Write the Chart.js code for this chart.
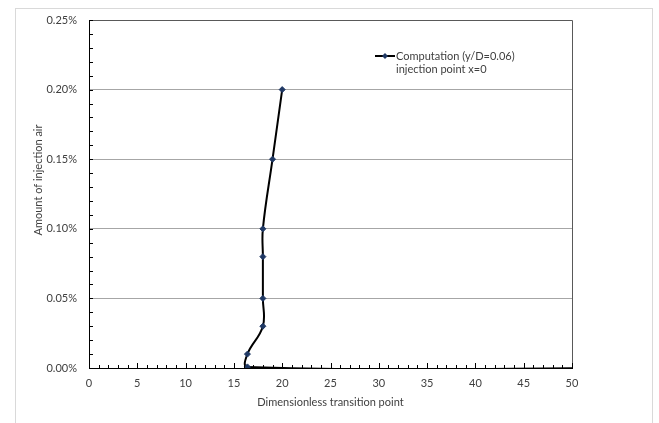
<!DOCTYPE html>
<html>
<head>
<meta charset="utf-8">
<script src="https://cdn.jsdelivr.net/npm/chart.js@4"></script>
<style>
  html, body { margin: 0; padding: 0; background: #fff; }
  #wrap { width: 659px; height: 423px; position: relative; }
</style>
</head>
<body>
<div id="wrap"><canvas id="chartCanvas" width="659" height="423"></canvas></div>
<script>
// values (x = dimensionless transition point, y = injection air in %)
const transitionX = [60, 16.4, 16.4, 18, 18, 18, 18, 19, 20]
const injectionY = [0, 0.0008, 0.01, 0.03, 0.05, 0.08, 0.10, 0.15, 0.20]
const seriesLabel = ['Computation (y/D=0.06)', 'injection point x=0']
const xTitle = 'Dimensionless transition point'
const yTitle = 'Amount of injection air'

const fontFamily = 'Lato, "Open Sans", sans-serif'
const textColor = '#404040'

let points = []
for (let i in transitionX) {
    points.push({ x: transitionX[i], y: injectionY[i] })
}

// frame, plot border, inside ticks, axis titles and legend
const decorPlugin = {
    id: 'decor',
    beforeDraw(chart) {
        const ctx = chart.ctx
        ctx.save()
        ctx.fillStyle = '#fff'
        ctx.fillRect(0, 0, chart.width, chart.height)
        ctx.strokeStyle = '#d9d9d9'
        ctx.lineWidth = 1
        ctx.strokeRect(15.5, 8.5, 637, 440)
        ctx.restore()
    },
    afterDraw(chart) {
        const ctx = chart.ctx
        const area = chart.chartArea
        const xs = chart.scales.x
        const ys = chart.scales.y
        ctx.save()

        // top and right border of the plot
        ctx.strokeStyle = '#595959'
        ctx.lineWidth = 1
        ctx.beginPath()
        ctx.moveTo(area.left, Math.round(area.top) + 0.5)
        ctx.lineTo(Math.round(area.right) + 0.5, Math.round(area.top) + 0.5)
        ctx.lineTo(Math.round(area.right) + 0.5, area.bottom)
        ctx.stroke()

        // inside ticks
        ctx.strokeStyle = '#000'
        ctx.beginPath()
        for (let v = 0; v <= 50; v += 1) {
            let px = Math.round(xs.getPixelForValue(v)) + 0.5
            let len = (v % 5 == 0) ? 5 : 3
            ctx.moveTo(px, area.bottom)
            ctx.lineTo(px, area.bottom - len)
        }
        for (let k = 0; k <= 25; k++) {
            let py = Math.round(ys.getPixelForValue(k / 100)) + 0.5
            ctx.moveTo(area.left, py)
            ctx.lineTo(area.left + 4, py)
        }
        ctx.stroke()

        // axis titles
        ctx.fillStyle = textColor
        ctx.font = '11px ' + fontFamily
        ctx.textAlign = 'center'
        ctx.textBaseline = 'middle'
        ctx.fillText(xTitle, (area.left + area.right) / 2, 402)
        ctx.save()
        ctx.translate(38, area.top + 160)
        ctx.rotate(-Math.PI / 2)
        ctx.fillText(yTitle, 0, 0)
        ctx.restore()

        // legend
        let lx = area.left + 286
        let ly = area.top + 36
        ctx.strokeStyle = '#000'
        ctx.lineWidth = 2
        ctx.beginPath()
        ctx.moveTo(lx, ly)
        ctx.lineTo(lx + 20, ly)
        ctx.stroke()
        ctx.fillStyle = '#1f3864'
        ctx.beginPath()
        ctx.moveTo(lx + 10, ly - 3)
        ctx.lineTo(lx + 13, ly)
        ctx.lineTo(lx + 10, ly + 3)
        ctx.lineTo(lx + 7, ly)
        ctx.closePath()
        ctx.fill()
        ctx.fillStyle = textColor
        ctx.textAlign = 'left'
        ctx.fillText(seriesLabel[0], lx + 21, ly)
        ctx.fillText(seriesLabel[1], lx + 21, ly + 13)

        ctx.restore()
    }
}

const chart = new Chart(document.getElementById('chartCanvas'), {
    type: 'scatter',
    data: {
        datasets: [{
            label: seriesLabel.join(' '),
            data: points,
            showLine: true,
            tension: 0.4,
            borderColor: '#000',
            borderWidth: 2,
            pointStyle: 'rectRot',
            pointRadius: [0, 3, 3, 3, 3, 3, 3, 3, 3],
            pointBackgroundColor: '#1f3864',
            pointBorderColor: '#1f3864',
            pointBorderWidth: 1
        }]
    },
    options: {
        responsive: false,
        animation: false,
        devicePixelRatio: 1,
        layout: { padding: { left: 15, top: 20, right: 87, bottom: 0 } },
        plugins: {
            legend: { display: false },
            tooltip: { enabled: false }
        },
        scales: {
            x: {
                type: 'linear',
                min: 0,
                max: 50,
                afterFit(scale) { scale.height = 55 },
                ticks: {
                    stepSize: 5,
                    padding: 9,
                    maxRotation: 0,
                    color: textColor,
                    font: { family: fontFamily, size: 11 }
                },
                grid: { display: false, drawTicks: false },
                border: { display: true, color: '#000', width: 1 }
            },
            y: {
                min: 0,
                max: 0.25,
                afterFit(scale) { scale.width = 74 },
                ticks: {
                    stepSize: 0.05,
                    padding: 12,
                    color: textColor,
                    font: { family: fontFamily, size: 11 },
                    callback: (v) => v.toFixed(2) + '%'
                },
                grid: {
                    drawTicks: false,
                    color: (c) => (c.tick && c.tick.value > 0 && c.tick.value < 0.25) ? '#a6a6a6' : 'rgba(0,0,0,0)'
                },
                border: { display: true, color: '#000', width: 1 }
            }
        }
    },
    plugins: [decorPlugin]
});
</script>
</body>
</html>
